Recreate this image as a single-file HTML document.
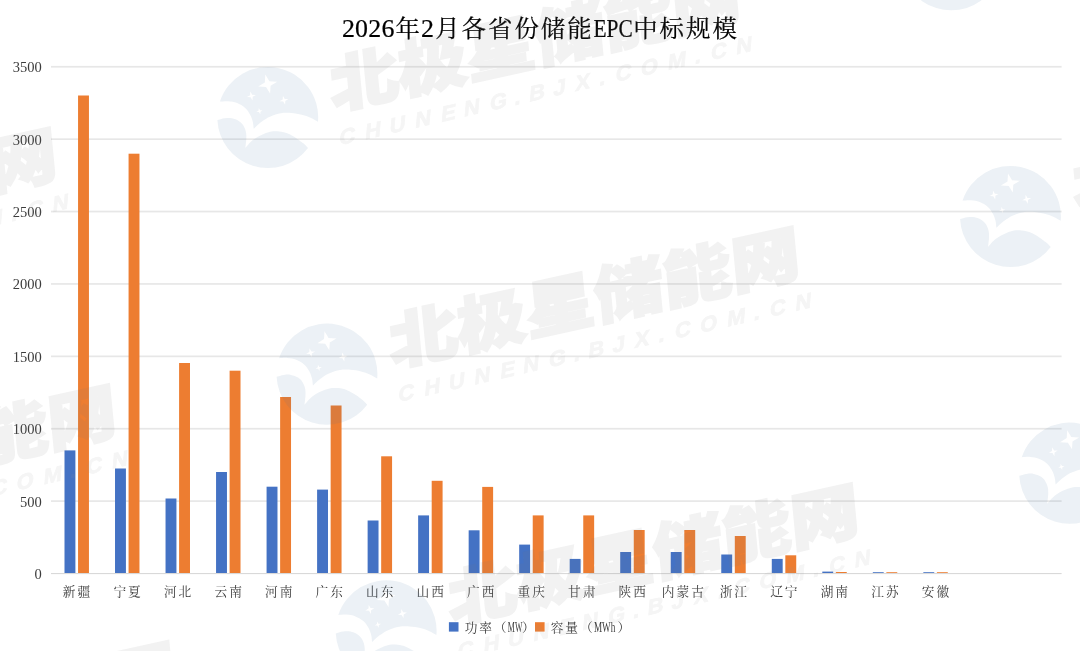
<!DOCTYPE html>
<html lang="zh-CN"><head><meta charset="utf-8"><title>2026年2月各省份储能EPC中标规模</title>
<style>
html,body{margin:0;padding:0;background:#fff;}
body{width:1080px;height:651px;overflow:hidden;}
svg{display:block;}
.ax{font-family:"Liberation Serif","Noto Serif CJK SC",serif;font-size:12.7px;fill:#3c3c3c;}
.lat{font-size:14px;}
.num{font-family:"Liberation Serif","Noto Serif CJK SC",serif;font-size:14.5px;fill:#3c3c3c;}
.ttl{font-family:"Liberation Serif","Noto Serif CJK SC",serif;font-size:24.4px;fill:#000;stroke:#000;stroke-width:0.22px;}
.d{font-size:25.9px;}
.wm1{font-family:"Liberation Sans","Noto Sans CJK SC",sans-serif;font-weight:900;font-size:61.6px;fill:#7d7d7d;stroke:#7d7d7d;stroke-width:2.4px;stroke-linejoin:miter;}
.wm2{font-family:"Liberation Sans","Noto Sans CJK SC",sans-serif;font-weight:700;font-size:20px;fill:#999;stroke:#999;stroke-width:0.7px;text-anchor:middle;}
</style></head><body>
<svg width="1080" height="651" viewBox="0 0 1080 651">
<rect width="1080" height="651" fill="#fff"/>
<g fill="#d9d9d9">
<rect x="51.0" y="573.00" width="1010.6" height="1.1"/>
<rect x="51.0" y="500.26" width="1010.6" height="1.7" fill-opacity="0.62"/>
<rect x="51.0" y="427.87" width="1010.6" height="1.7" fill-opacity="0.62"/>
<rect x="51.0" y="355.48" width="1010.6" height="1.7" fill-opacity="0.62"/>
<rect x="51.0" y="283.09" width="1010.6" height="1.7" fill-opacity="0.62"/>
<rect x="51.0" y="210.70" width="1010.6" height="1.7" fill-opacity="0.62"/>
<rect x="51.0" y="138.31" width="1010.6" height="1.7" fill-opacity="0.62"/>
<rect x="51.0" y="65.92" width="1010.6" height="1.7" fill-opacity="0.62"/>
</g>
<g fill="#4472c4">
<rect x="64.50" y="450.40" width="10.9" height="122.60"/>
<rect x="115.02" y="468.50" width="10.9" height="104.50"/>
<rect x="165.54" y="498.50" width="10.9" height="74.50"/>
<rect x="216.06" y="472.00" width="10.9" height="101.00"/>
<rect x="266.58" y="486.70" width="10.9" height="86.30"/>
<rect x="317.10" y="489.60" width="10.9" height="83.40"/>
<rect x="367.62" y="520.50" width="10.9" height="52.50"/>
<rect x="418.14" y="515.40" width="10.9" height="57.60"/>
<rect x="468.66" y="530.30" width="10.9" height="42.70"/>
<rect x="519.18" y="544.60" width="10.9" height="28.40"/>
<rect x="569.70" y="558.90" width="10.9" height="14.10"/>
<rect x="620.22" y="552.00" width="10.9" height="21.00"/>
<rect x="670.74" y="552.00" width="10.9" height="21.00"/>
<rect x="721.26" y="554.50" width="10.9" height="18.50"/>
<rect x="771.78" y="558.90" width="10.9" height="14.10"/>
<rect x="822.30" y="571.60" width="10.9" height="1.40"/>
<rect x="872.82" y="572.20" width="10.9" height="0.80"/>
<rect x="923.34" y="572.20" width="10.9" height="0.80"/>
</g>
<g fill="#ed7d31">
<rect x="78.05" y="95.50" width="10.9" height="477.50"/>
<rect x="128.57" y="153.70" width="10.9" height="419.30"/>
<rect x="179.09" y="363.00" width="10.9" height="210.00"/>
<rect x="229.61" y="370.70" width="10.9" height="202.30"/>
<rect x="280.13" y="397.00" width="10.9" height="176.00"/>
<rect x="330.65" y="405.50" width="10.9" height="167.50"/>
<rect x="381.17" y="456.30" width="10.9" height="116.70"/>
<rect x="431.69" y="480.80" width="10.9" height="92.20"/>
<rect x="482.21" y="486.90" width="10.9" height="86.10"/>
<rect x="532.73" y="515.40" width="10.9" height="57.60"/>
<rect x="583.25" y="515.40" width="10.9" height="57.60"/>
<rect x="633.77" y="530.00" width="10.9" height="43.00"/>
<rect x="684.29" y="530.00" width="10.9" height="43.00"/>
<rect x="734.81" y="536.00" width="10.9" height="37.00"/>
<rect x="785.33" y="555.30" width="10.9" height="17.70"/>
<rect x="835.85" y="572.00" width="10.9" height="1.00"/>
<rect x="886.37" y="572.20" width="10.9" height="0.80"/>
<rect x="936.89" y="572.20" width="10.9" height="0.80"/>
</g>
<g class="num" text-anchor="end">
<text x="41.8" y="578.95">0</text>
<text x="41.8" y="506.56">500</text>
<text x="41.8" y="434.17">1000</text>
<text x="41.8" y="361.78">1500</text>
<text x="41.8" y="289.39">2000</text>
<text x="41.8" y="217.00">2500</text>
<text x="41.8" y="144.61">3000</text>
<text x="41.8" y="72.22">3500</text>
</g>
<g class="ax" text-anchor="middle">
<text x="69.21 83.91" y="595.9">新疆</text>
<text x="119.73 134.43" y="595.9">宁夏</text>
<text x="170.25 184.95" y="595.9">河北</text>
<text x="220.77 235.47" y="595.9">云南</text>
<text x="271.29 285.99" y="595.9">河南</text>
<text x="321.81 336.51" y="595.9">广东</text>
<text x="372.33 387.03" y="595.9">山东</text>
<text x="422.85 437.55" y="595.9">山西</text>
<text x="473.37 488.07" y="595.9">广西</text>
<text x="523.89 538.59" y="595.9">重庆</text>
<text x="574.41 589.11" y="595.9">甘肃</text>
<text x="624.93 639.63" y="595.9">陕西</text>
<text x="668.10 682.80 697.50" y="595.9">内蒙古</text>
<text x="725.97 740.67" y="595.9">浙江</text>
<text x="776.49 791.19" y="595.9">辽宁</text>
<text x="827.01 841.71" y="595.9">湖南</text>
<text x="877.53 892.23" y="595.9">江苏</text>
<text x="928.05 942.75" y="595.9">安徽</text>
</g>
<text class="ttl" y="37.3" text-anchor="middle" x="348.40 361.60 374.80 388.00 407.80 427.60 447.40 473.80 500.20 526.60 553.00 579.40"><tspan class="d" dy="-0.5">2026</tspan><tspan dy="0.5">年</tspan><tspan class="d" dy="-0.5">2</tspan><tspan dy="0.5">月各省份储能</tspan><tspan class="d" dy="-0.5" text-anchor="start" x="593.50" textLength="39.2" lengthAdjust="spacingAndGlyphs">EPC</tspan><tspan dy="0.5" text-anchor="middle" x="645.40 671.80 698.20 724.60">中标规模</tspan></text>
<rect x="448.9" y="622.2" width="9.6" height="9.4" fill="#4472c4"/>
<text class="ax" y="631.6" text-anchor="middle" x="471.00 485.60 500.20">功率（<tspan class="lat" text-anchor="start" x="507.80" textLength="14.60" lengthAdjust="spacingAndGlyphs">MW</tspan><tspan text-anchor="middle" x="528.30">）</tspan></text>
<rect x="535.0" y="622.2" width="9.6" height="9.4" fill="#ed7d31"/>
<text class="ax" y="631.6" text-anchor="middle" x="557.10 571.70 586.30">容量（<tspan class="lat" text-anchor="start" x="593.90" textLength="21.40" lengthAdjust="spacingAndGlyphs">MWh</tspan><tspan text-anchor="middle" x="623.90">）</tspan></text>
<g id="watermarks" opacity="0.1">
<g transform="translate(951.2,-40.0)">
<path fill="#41739f" fill-rule="evenodd" d="M-47.8,-16.1 A50.4,50.4 0 0 1 50.3,4 C49.1,3.3 45.6,1.2 42.9,0.0 C40.2,-1.2 37.4,-2.2 34.2,-3.0 C31.0,-3.8 27.1,-4.5 23.6,-4.7 C20.1,-4.9 16.6,-5.0 13.1,-4.4 C9.6,-3.8 5.8,-2.6 2.6,-1.2 C-0.6,0.2 -3.3,2.0 -6.1,4.0 C-8.9,6.0 -12.7,9.8 -14.0,11.0 C-14.2,9.8 -14.3,6.3 -14.9,4.0 C-15.5,1.7 -16.2,-0.7 -17.5,-3.0 C-18.8,-5.3 -20.6,-8.1 -22.8,-10.0 C-25.0,-11.9 -27.8,-13.6 -30.6,-14.7 C-33.4,-15.8 -36.5,-16.3 -39.4,-16.5 C-42.3,-16.7 -46.4,-16.2 -47.8,-16.1Z M-2.4,-43.1 L1.7,-36.5 L9.5,-36.0 L2.9,-31.9 L2.4,-24.1 L-1.7,-30.7 L-9.5,-31.2 L-2.9,-35.3Z M-17.4,-26.2 L-15.5,-23.0 L-11.8,-22.8 L-15.0,-20.9 L-15.2,-17.2 L-17.1,-20.4 L-20.8,-20.6 L-17.6,-22.5Z M15.2,-22.0 L17.1,-18.8 L20.8,-18.6 L17.6,-16.7 L17.4,-13.0 L15.5,-16.2 L11.8,-16.4 L15.0,-18.3Z M-9.0,-9.6 L-7.6,-7.4 L-5.1,-7.3 L-7.3,-5.9 L-7.4,-3.4 L-8.8,-5.6 L-11.3,-5.7 L-9.1,-7.1Z M-50.3,2.3 C-49.1,2.0 -45.3,0.8 -42.9,0.5 C-40.5,0.2 -38.2,0.0 -35.9,0.5 C-33.6,0.9 -30.8,2.0 -28.9,3.2 C-27.0,4.4 -25.7,5.8 -24.5,7.5 C-23.3,9.2 -22.4,11.5 -21.9,13.7 C-21.4,15.9 -21.3,17.9 -21.4,20.7 C-21.5,23.5 -22.2,28.7 -22.4,30.3 C-21.1,29.0 -17.6,24.6 -14.9,22.4 C-12.2,20.2 -9.0,18.6 -6.1,17.2 C-3.2,15.8 -0.3,14.6 2.6,14.0 C5.5,13.4 8.5,13.4 11.4,13.7 C14.3,14.0 17.2,14.6 20.1,15.8 C23.0,17.0 26.3,19.0 28.9,20.7 C31.5,22.4 34.0,24.3 35.9,25.9 C37.8,27.5 39.6,29.6 40.3,30.3 A50.4,50.4 0 0 1 -50.3,2.3Z"/>
<text class="wm1" transform="matrix(1.1077,-0.2476,0.0958,0.9954,64.5,-8.2)" x="0.0 61.8 123.5 185.3 247.0 308.8" y="0">北极星储能网</text>
<text class="wm2" transform="matrix(1.0917,-0.2500,-0.0959,1.0958,79.1,25.8)" x="0.0 23.7 46.1 69.4 92.7 114.2 138.4 156.2 173.9 194.4 215.8 233.9 253.2 276.9 302.1 321.2 340.3 363.6" y="0">CHUNENG.BJX.COM.CN</text>
</g>
<g transform="translate(267.7,117.7)">
<path fill="#41739f" fill-rule="evenodd" d="M-47.8,-16.1 A50.4,50.4 0 0 1 50.3,4 C49.1,3.3 45.6,1.2 42.9,0.0 C40.2,-1.2 37.4,-2.2 34.2,-3.0 C31.0,-3.8 27.1,-4.5 23.6,-4.7 C20.1,-4.9 16.6,-5.0 13.1,-4.4 C9.6,-3.8 5.8,-2.6 2.6,-1.2 C-0.6,0.2 -3.3,2.0 -6.1,4.0 C-8.9,6.0 -12.7,9.8 -14.0,11.0 C-14.2,9.8 -14.3,6.3 -14.9,4.0 C-15.5,1.7 -16.2,-0.7 -17.5,-3.0 C-18.8,-5.3 -20.6,-8.1 -22.8,-10.0 C-25.0,-11.9 -27.8,-13.6 -30.6,-14.7 C-33.4,-15.8 -36.5,-16.3 -39.4,-16.5 C-42.3,-16.7 -46.4,-16.2 -47.8,-16.1Z M-2.4,-43.1 L1.7,-36.5 L9.5,-36.0 L2.9,-31.9 L2.4,-24.1 L-1.7,-30.7 L-9.5,-31.2 L-2.9,-35.3Z M-17.4,-26.2 L-15.5,-23.0 L-11.8,-22.8 L-15.0,-20.9 L-15.2,-17.2 L-17.1,-20.4 L-20.8,-20.6 L-17.6,-22.5Z M15.2,-22.0 L17.1,-18.8 L20.8,-18.6 L17.6,-16.7 L17.4,-13.0 L15.5,-16.2 L11.8,-16.4 L15.0,-18.3Z M-9.0,-9.6 L-7.6,-7.4 L-5.1,-7.3 L-7.3,-5.9 L-7.4,-3.4 L-8.8,-5.6 L-11.3,-5.7 L-9.1,-7.1Z M-50.3,2.3 C-49.1,2.0 -45.3,0.8 -42.9,0.5 C-40.5,0.2 -38.2,0.0 -35.9,0.5 C-33.6,0.9 -30.8,2.0 -28.9,3.2 C-27.0,4.4 -25.7,5.8 -24.5,7.5 C-23.3,9.2 -22.4,11.5 -21.9,13.7 C-21.4,15.9 -21.3,17.9 -21.4,20.7 C-21.5,23.5 -22.2,28.7 -22.4,30.3 C-21.1,29.0 -17.6,24.6 -14.9,22.4 C-12.2,20.2 -9.0,18.6 -6.1,17.2 C-3.2,15.8 -0.3,14.6 2.6,14.0 C5.5,13.4 8.5,13.4 11.4,13.7 C14.3,14.0 17.2,14.6 20.1,15.8 C23.0,17.0 26.3,19.0 28.9,20.7 C31.5,22.4 34.0,24.3 35.9,25.9 C37.8,27.5 39.6,29.6 40.3,30.3 A50.4,50.4 0 0 1 -50.3,2.3Z"/>
<text class="wm1" transform="matrix(1.1077,-0.2476,0.0958,0.9954,64.5,-8.2)" x="0.0 61.8 123.5 185.3 247.0 308.8" y="0">北极星储能网</text>
<text class="wm2" transform="matrix(1.0917,-0.2500,-0.0959,1.0958,79.1,25.8)" x="0.0 23.7 46.1 69.4 92.7 114.2 138.4 156.2 173.9 194.4 215.8 233.9 253.2 276.9 302.1 321.2 340.3 363.6" y="0">CHUNENG.BJX.COM.CN</text>
</g>
<g transform="translate(1010.4,216.7)">
<path fill="#41739f" fill-rule="evenodd" d="M-47.8,-16.1 A50.4,50.4 0 0 1 50.3,4 C49.1,3.3 45.6,1.2 42.9,0.0 C40.2,-1.2 37.4,-2.2 34.2,-3.0 C31.0,-3.8 27.1,-4.5 23.6,-4.7 C20.1,-4.9 16.6,-5.0 13.1,-4.4 C9.6,-3.8 5.8,-2.6 2.6,-1.2 C-0.6,0.2 -3.3,2.0 -6.1,4.0 C-8.9,6.0 -12.7,9.8 -14.0,11.0 C-14.2,9.8 -14.3,6.3 -14.9,4.0 C-15.5,1.7 -16.2,-0.7 -17.5,-3.0 C-18.8,-5.3 -20.6,-8.1 -22.8,-10.0 C-25.0,-11.9 -27.8,-13.6 -30.6,-14.7 C-33.4,-15.8 -36.5,-16.3 -39.4,-16.5 C-42.3,-16.7 -46.4,-16.2 -47.8,-16.1Z M-2.4,-43.1 L1.7,-36.5 L9.5,-36.0 L2.9,-31.9 L2.4,-24.1 L-1.7,-30.7 L-9.5,-31.2 L-2.9,-35.3Z M-17.4,-26.2 L-15.5,-23.0 L-11.8,-22.8 L-15.0,-20.9 L-15.2,-17.2 L-17.1,-20.4 L-20.8,-20.6 L-17.6,-22.5Z M15.2,-22.0 L17.1,-18.8 L20.8,-18.6 L17.6,-16.7 L17.4,-13.0 L15.5,-16.2 L11.8,-16.4 L15.0,-18.3Z M-9.0,-9.6 L-7.6,-7.4 L-5.1,-7.3 L-7.3,-5.9 L-7.4,-3.4 L-8.8,-5.6 L-11.3,-5.7 L-9.1,-7.1Z M-50.3,2.3 C-49.1,2.0 -45.3,0.8 -42.9,0.5 C-40.5,0.2 -38.2,0.0 -35.9,0.5 C-33.6,0.9 -30.8,2.0 -28.9,3.2 C-27.0,4.4 -25.7,5.8 -24.5,7.5 C-23.3,9.2 -22.4,11.5 -21.9,13.7 C-21.4,15.9 -21.3,17.9 -21.4,20.7 C-21.5,23.5 -22.2,28.7 -22.4,30.3 C-21.1,29.0 -17.6,24.6 -14.9,22.4 C-12.2,20.2 -9.0,18.6 -6.1,17.2 C-3.2,15.8 -0.3,14.6 2.6,14.0 C5.5,13.4 8.5,13.4 11.4,13.7 C14.3,14.0 17.2,14.6 20.1,15.8 C23.0,17.0 26.3,19.0 28.9,20.7 C31.5,22.4 34.0,24.3 35.9,25.9 C37.8,27.5 39.6,29.6 40.3,30.3 A50.4,50.4 0 0 1 -50.3,2.3Z"/>
<text class="wm1" transform="matrix(1.1077,-0.2476,0.0958,0.9954,64.5,-8.2)" x="0.0 61.8 123.5 185.3 247.0 308.8" y="0">北极星储能网</text>
<text class="wm2" transform="matrix(1.0917,-0.2500,-0.0959,1.0958,79.1,25.8)" x="0.0 23.7 46.1 69.4 92.7 114.2 138.4 156.2 173.9 194.4 215.8 233.9 253.2 276.9 302.1 321.2 340.3 363.6" y="0">CHUNENG.BJX.COM.CN</text>
</g>
<g transform="translate(-415.8,275.4)">
<path fill="#41739f" fill-rule="evenodd" d="M-47.8,-16.1 A50.4,50.4 0 0 1 50.3,4 C49.1,3.3 45.6,1.2 42.9,0.0 C40.2,-1.2 37.4,-2.2 34.2,-3.0 C31.0,-3.8 27.1,-4.5 23.6,-4.7 C20.1,-4.9 16.6,-5.0 13.1,-4.4 C9.6,-3.8 5.8,-2.6 2.6,-1.2 C-0.6,0.2 -3.3,2.0 -6.1,4.0 C-8.9,6.0 -12.7,9.8 -14.0,11.0 C-14.2,9.8 -14.3,6.3 -14.9,4.0 C-15.5,1.7 -16.2,-0.7 -17.5,-3.0 C-18.8,-5.3 -20.6,-8.1 -22.8,-10.0 C-25.0,-11.9 -27.8,-13.6 -30.6,-14.7 C-33.4,-15.8 -36.5,-16.3 -39.4,-16.5 C-42.3,-16.7 -46.4,-16.2 -47.8,-16.1Z M-2.4,-43.1 L1.7,-36.5 L9.5,-36.0 L2.9,-31.9 L2.4,-24.1 L-1.7,-30.7 L-9.5,-31.2 L-2.9,-35.3Z M-17.4,-26.2 L-15.5,-23.0 L-11.8,-22.8 L-15.0,-20.9 L-15.2,-17.2 L-17.1,-20.4 L-20.8,-20.6 L-17.6,-22.5Z M15.2,-22.0 L17.1,-18.8 L20.8,-18.6 L17.6,-16.7 L17.4,-13.0 L15.5,-16.2 L11.8,-16.4 L15.0,-18.3Z M-9.0,-9.6 L-7.6,-7.4 L-5.1,-7.3 L-7.3,-5.9 L-7.4,-3.4 L-8.8,-5.6 L-11.3,-5.7 L-9.1,-7.1Z M-50.3,2.3 C-49.1,2.0 -45.3,0.8 -42.9,0.5 C-40.5,0.2 -38.2,0.0 -35.9,0.5 C-33.6,0.9 -30.8,2.0 -28.9,3.2 C-27.0,4.4 -25.7,5.8 -24.5,7.5 C-23.3,9.2 -22.4,11.5 -21.9,13.7 C-21.4,15.9 -21.3,17.9 -21.4,20.7 C-21.5,23.5 -22.2,28.7 -22.4,30.3 C-21.1,29.0 -17.6,24.6 -14.9,22.4 C-12.2,20.2 -9.0,18.6 -6.1,17.2 C-3.2,15.8 -0.3,14.6 2.6,14.0 C5.5,13.4 8.5,13.4 11.4,13.7 C14.3,14.0 17.2,14.6 20.1,15.8 C23.0,17.0 26.3,19.0 28.9,20.7 C31.5,22.4 34.0,24.3 35.9,25.9 C37.8,27.5 39.6,29.6 40.3,30.3 A50.4,50.4 0 0 1 -50.3,2.3Z"/>
<text class="wm1" transform="matrix(1.1077,-0.2476,0.0958,0.9954,64.5,-8.2)" x="0.0 61.8 123.5 185.3 247.0 308.8" y="0">北极星储能网</text>
<text class="wm2" transform="matrix(1.0917,-0.2500,-0.0959,1.0958,79.1,25.8)" x="0.0 23.7 46.1 69.4 92.7 114.2 138.4 156.2 173.9 194.4 215.8 233.9 253.2 276.9 302.1 321.2 340.3 363.6" y="0">CHUNENG.BJX.COM.CN</text>
</g>
<g transform="translate(326.9,374.4)">
<path fill="#41739f" fill-rule="evenodd" d="M-47.8,-16.1 A50.4,50.4 0 0 1 50.3,4 C49.1,3.3 45.6,1.2 42.9,0.0 C40.2,-1.2 37.4,-2.2 34.2,-3.0 C31.0,-3.8 27.1,-4.5 23.6,-4.7 C20.1,-4.9 16.6,-5.0 13.1,-4.4 C9.6,-3.8 5.8,-2.6 2.6,-1.2 C-0.6,0.2 -3.3,2.0 -6.1,4.0 C-8.9,6.0 -12.7,9.8 -14.0,11.0 C-14.2,9.8 -14.3,6.3 -14.9,4.0 C-15.5,1.7 -16.2,-0.7 -17.5,-3.0 C-18.8,-5.3 -20.6,-8.1 -22.8,-10.0 C-25.0,-11.9 -27.8,-13.6 -30.6,-14.7 C-33.4,-15.8 -36.5,-16.3 -39.4,-16.5 C-42.3,-16.7 -46.4,-16.2 -47.8,-16.1Z M-2.4,-43.1 L1.7,-36.5 L9.5,-36.0 L2.9,-31.9 L2.4,-24.1 L-1.7,-30.7 L-9.5,-31.2 L-2.9,-35.3Z M-17.4,-26.2 L-15.5,-23.0 L-11.8,-22.8 L-15.0,-20.9 L-15.2,-17.2 L-17.1,-20.4 L-20.8,-20.6 L-17.6,-22.5Z M15.2,-22.0 L17.1,-18.8 L20.8,-18.6 L17.6,-16.7 L17.4,-13.0 L15.5,-16.2 L11.8,-16.4 L15.0,-18.3Z M-9.0,-9.6 L-7.6,-7.4 L-5.1,-7.3 L-7.3,-5.9 L-7.4,-3.4 L-8.8,-5.6 L-11.3,-5.7 L-9.1,-7.1Z M-50.3,2.3 C-49.1,2.0 -45.3,0.8 -42.9,0.5 C-40.5,0.2 -38.2,0.0 -35.9,0.5 C-33.6,0.9 -30.8,2.0 -28.9,3.2 C-27.0,4.4 -25.7,5.8 -24.5,7.5 C-23.3,9.2 -22.4,11.5 -21.9,13.7 C-21.4,15.9 -21.3,17.9 -21.4,20.7 C-21.5,23.5 -22.2,28.7 -22.4,30.3 C-21.1,29.0 -17.6,24.6 -14.9,22.4 C-12.2,20.2 -9.0,18.6 -6.1,17.2 C-3.2,15.8 -0.3,14.6 2.6,14.0 C5.5,13.4 8.5,13.4 11.4,13.7 C14.3,14.0 17.2,14.6 20.1,15.8 C23.0,17.0 26.3,19.0 28.9,20.7 C31.5,22.4 34.0,24.3 35.9,25.9 C37.8,27.5 39.6,29.6 40.3,30.3 A50.4,50.4 0 0 1 -50.3,2.3Z"/>
<text class="wm1" transform="matrix(1.1077,-0.2476,0.0958,0.9954,64.5,-8.2)" x="0.0 61.8 123.5 185.3 247.0 308.8" y="0">北极星储能网</text>
<text class="wm2" transform="matrix(1.0917,-0.2500,-0.0959,1.0958,79.1,25.8)" x="0.0 23.7 46.1 69.4 92.7 114.2 138.4 156.2 173.9 194.4 215.8 233.9 253.2 276.9 302.1 321.2 340.3 363.6" y="0">CHUNENG.BJX.COM.CN</text>
</g>
<g transform="translate(1069.6,473.4)">
<path fill="#41739f" fill-rule="evenodd" d="M-47.8,-16.1 A50.4,50.4 0 0 1 50.3,4 C49.1,3.3 45.6,1.2 42.9,0.0 C40.2,-1.2 37.4,-2.2 34.2,-3.0 C31.0,-3.8 27.1,-4.5 23.6,-4.7 C20.1,-4.9 16.6,-5.0 13.1,-4.4 C9.6,-3.8 5.8,-2.6 2.6,-1.2 C-0.6,0.2 -3.3,2.0 -6.1,4.0 C-8.9,6.0 -12.7,9.8 -14.0,11.0 C-14.2,9.8 -14.3,6.3 -14.9,4.0 C-15.5,1.7 -16.2,-0.7 -17.5,-3.0 C-18.8,-5.3 -20.6,-8.1 -22.8,-10.0 C-25.0,-11.9 -27.8,-13.6 -30.6,-14.7 C-33.4,-15.8 -36.5,-16.3 -39.4,-16.5 C-42.3,-16.7 -46.4,-16.2 -47.8,-16.1Z M-2.4,-43.1 L1.7,-36.5 L9.5,-36.0 L2.9,-31.9 L2.4,-24.1 L-1.7,-30.7 L-9.5,-31.2 L-2.9,-35.3Z M-17.4,-26.2 L-15.5,-23.0 L-11.8,-22.8 L-15.0,-20.9 L-15.2,-17.2 L-17.1,-20.4 L-20.8,-20.6 L-17.6,-22.5Z M15.2,-22.0 L17.1,-18.8 L20.8,-18.6 L17.6,-16.7 L17.4,-13.0 L15.5,-16.2 L11.8,-16.4 L15.0,-18.3Z M-9.0,-9.6 L-7.6,-7.4 L-5.1,-7.3 L-7.3,-5.9 L-7.4,-3.4 L-8.8,-5.6 L-11.3,-5.7 L-9.1,-7.1Z M-50.3,2.3 C-49.1,2.0 -45.3,0.8 -42.9,0.5 C-40.5,0.2 -38.2,0.0 -35.9,0.5 C-33.6,0.9 -30.8,2.0 -28.9,3.2 C-27.0,4.4 -25.7,5.8 -24.5,7.5 C-23.3,9.2 -22.4,11.5 -21.9,13.7 C-21.4,15.9 -21.3,17.9 -21.4,20.7 C-21.5,23.5 -22.2,28.7 -22.4,30.3 C-21.1,29.0 -17.6,24.6 -14.9,22.4 C-12.2,20.2 -9.0,18.6 -6.1,17.2 C-3.2,15.8 -0.3,14.6 2.6,14.0 C5.5,13.4 8.5,13.4 11.4,13.7 C14.3,14.0 17.2,14.6 20.1,15.8 C23.0,17.0 26.3,19.0 28.9,20.7 C31.5,22.4 34.0,24.3 35.9,25.9 C37.8,27.5 39.6,29.6 40.3,30.3 A50.4,50.4 0 0 1 -50.3,2.3Z"/>
<text class="wm1" transform="matrix(1.1077,-0.2476,0.0958,0.9954,64.5,-8.2)" x="0.0 61.8 123.5 185.3 247.0 308.8" y="0">北极星储能网</text>
<text class="wm2" transform="matrix(1.0917,-0.2500,-0.0959,1.0958,79.1,25.8)" x="0.0 23.7 46.1 69.4 92.7 114.2 138.4 156.2 173.9 194.4 215.8 233.9 253.2 276.9 302.1 321.2 340.3 363.6" y="0">CHUNENG.BJX.COM.CN</text>
</g>
<g transform="translate(-356.6,532.1)">
<path fill="#41739f" fill-rule="evenodd" d="M-47.8,-16.1 A50.4,50.4 0 0 1 50.3,4 C49.1,3.3 45.6,1.2 42.9,0.0 C40.2,-1.2 37.4,-2.2 34.2,-3.0 C31.0,-3.8 27.1,-4.5 23.6,-4.7 C20.1,-4.9 16.6,-5.0 13.1,-4.4 C9.6,-3.8 5.8,-2.6 2.6,-1.2 C-0.6,0.2 -3.3,2.0 -6.1,4.0 C-8.9,6.0 -12.7,9.8 -14.0,11.0 C-14.2,9.8 -14.3,6.3 -14.9,4.0 C-15.5,1.7 -16.2,-0.7 -17.5,-3.0 C-18.8,-5.3 -20.6,-8.1 -22.8,-10.0 C-25.0,-11.9 -27.8,-13.6 -30.6,-14.7 C-33.4,-15.8 -36.5,-16.3 -39.4,-16.5 C-42.3,-16.7 -46.4,-16.2 -47.8,-16.1Z M-2.4,-43.1 L1.7,-36.5 L9.5,-36.0 L2.9,-31.9 L2.4,-24.1 L-1.7,-30.7 L-9.5,-31.2 L-2.9,-35.3Z M-17.4,-26.2 L-15.5,-23.0 L-11.8,-22.8 L-15.0,-20.9 L-15.2,-17.2 L-17.1,-20.4 L-20.8,-20.6 L-17.6,-22.5Z M15.2,-22.0 L17.1,-18.8 L20.8,-18.6 L17.6,-16.7 L17.4,-13.0 L15.5,-16.2 L11.8,-16.4 L15.0,-18.3Z M-9.0,-9.6 L-7.6,-7.4 L-5.1,-7.3 L-7.3,-5.9 L-7.4,-3.4 L-8.8,-5.6 L-11.3,-5.7 L-9.1,-7.1Z M-50.3,2.3 C-49.1,2.0 -45.3,0.8 -42.9,0.5 C-40.5,0.2 -38.2,0.0 -35.9,0.5 C-33.6,0.9 -30.8,2.0 -28.9,3.2 C-27.0,4.4 -25.7,5.8 -24.5,7.5 C-23.3,9.2 -22.4,11.5 -21.9,13.7 C-21.4,15.9 -21.3,17.9 -21.4,20.7 C-21.5,23.5 -22.2,28.7 -22.4,30.3 C-21.1,29.0 -17.6,24.6 -14.9,22.4 C-12.2,20.2 -9.0,18.6 -6.1,17.2 C-3.2,15.8 -0.3,14.6 2.6,14.0 C5.5,13.4 8.5,13.4 11.4,13.7 C14.3,14.0 17.2,14.6 20.1,15.8 C23.0,17.0 26.3,19.0 28.9,20.7 C31.5,22.4 34.0,24.3 35.9,25.9 C37.8,27.5 39.6,29.6 40.3,30.3 A50.4,50.4 0 0 1 -50.3,2.3Z"/>
<text class="wm1" transform="matrix(1.1077,-0.2476,0.0958,0.9954,64.5,-8.2)" x="0.0 61.8 123.5 185.3 247.0 308.8" y="0">北极星储能网</text>
<text class="wm2" transform="matrix(1.0917,-0.2500,-0.0959,1.0958,79.1,25.8)" x="0.0 23.7 46.1 69.4 92.7 114.2 138.4 156.2 173.9 194.4 215.8 233.9 253.2 276.9 302.1 321.2 340.3 363.6" y="0">CHUNENG.BJX.COM.CN</text>
</g>
<g transform="translate(386.1,631.1)">
<path fill="#41739f" fill-rule="evenodd" d="M-47.8,-16.1 A50.4,50.4 0 0 1 50.3,4 C49.1,3.3 45.6,1.2 42.9,0.0 C40.2,-1.2 37.4,-2.2 34.2,-3.0 C31.0,-3.8 27.1,-4.5 23.6,-4.7 C20.1,-4.9 16.6,-5.0 13.1,-4.4 C9.6,-3.8 5.8,-2.6 2.6,-1.2 C-0.6,0.2 -3.3,2.0 -6.1,4.0 C-8.9,6.0 -12.7,9.8 -14.0,11.0 C-14.2,9.8 -14.3,6.3 -14.9,4.0 C-15.5,1.7 -16.2,-0.7 -17.5,-3.0 C-18.8,-5.3 -20.6,-8.1 -22.8,-10.0 C-25.0,-11.9 -27.8,-13.6 -30.6,-14.7 C-33.4,-15.8 -36.5,-16.3 -39.4,-16.5 C-42.3,-16.7 -46.4,-16.2 -47.8,-16.1Z M-2.4,-43.1 L1.7,-36.5 L9.5,-36.0 L2.9,-31.9 L2.4,-24.1 L-1.7,-30.7 L-9.5,-31.2 L-2.9,-35.3Z M-17.4,-26.2 L-15.5,-23.0 L-11.8,-22.8 L-15.0,-20.9 L-15.2,-17.2 L-17.1,-20.4 L-20.8,-20.6 L-17.6,-22.5Z M15.2,-22.0 L17.1,-18.8 L20.8,-18.6 L17.6,-16.7 L17.4,-13.0 L15.5,-16.2 L11.8,-16.4 L15.0,-18.3Z M-9.0,-9.6 L-7.6,-7.4 L-5.1,-7.3 L-7.3,-5.9 L-7.4,-3.4 L-8.8,-5.6 L-11.3,-5.7 L-9.1,-7.1Z M-50.3,2.3 C-49.1,2.0 -45.3,0.8 -42.9,0.5 C-40.5,0.2 -38.2,0.0 -35.9,0.5 C-33.6,0.9 -30.8,2.0 -28.9,3.2 C-27.0,4.4 -25.7,5.8 -24.5,7.5 C-23.3,9.2 -22.4,11.5 -21.9,13.7 C-21.4,15.9 -21.3,17.9 -21.4,20.7 C-21.5,23.5 -22.2,28.7 -22.4,30.3 C-21.1,29.0 -17.6,24.6 -14.9,22.4 C-12.2,20.2 -9.0,18.6 -6.1,17.2 C-3.2,15.8 -0.3,14.6 2.6,14.0 C5.5,13.4 8.5,13.4 11.4,13.7 C14.3,14.0 17.2,14.6 20.1,15.8 C23.0,17.0 26.3,19.0 28.9,20.7 C31.5,22.4 34.0,24.3 35.9,25.9 C37.8,27.5 39.6,29.6 40.3,30.3 A50.4,50.4 0 0 1 -50.3,2.3Z"/>
<text class="wm1" transform="matrix(1.1077,-0.2476,0.0958,0.9954,64.5,-8.2)" x="0.0 61.8 123.5 185.3 247.0 308.8" y="0">北极星储能网</text>
<text class="wm2" transform="matrix(1.0917,-0.2500,-0.0959,1.0958,79.1,25.8)" x="0.0 23.7 46.1 69.4 92.7 114.2 138.4 156.2 173.9 194.4 215.8 233.9 253.2 276.9 302.1 321.2 340.3 363.6" y="0">CHUNENG.BJX.COM.CN</text>
</g>
<g transform="translate(-297.4,788.8)">
<path fill="#41739f" fill-rule="evenodd" d="M-47.8,-16.1 A50.4,50.4 0 0 1 50.3,4 C49.1,3.3 45.6,1.2 42.9,0.0 C40.2,-1.2 37.4,-2.2 34.2,-3.0 C31.0,-3.8 27.1,-4.5 23.6,-4.7 C20.1,-4.9 16.6,-5.0 13.1,-4.4 C9.6,-3.8 5.8,-2.6 2.6,-1.2 C-0.6,0.2 -3.3,2.0 -6.1,4.0 C-8.9,6.0 -12.7,9.8 -14.0,11.0 C-14.2,9.8 -14.3,6.3 -14.9,4.0 C-15.5,1.7 -16.2,-0.7 -17.5,-3.0 C-18.8,-5.3 -20.6,-8.1 -22.8,-10.0 C-25.0,-11.9 -27.8,-13.6 -30.6,-14.7 C-33.4,-15.8 -36.5,-16.3 -39.4,-16.5 C-42.3,-16.7 -46.4,-16.2 -47.8,-16.1Z M-2.4,-43.1 L1.7,-36.5 L9.5,-36.0 L2.9,-31.9 L2.4,-24.1 L-1.7,-30.7 L-9.5,-31.2 L-2.9,-35.3Z M-17.4,-26.2 L-15.5,-23.0 L-11.8,-22.8 L-15.0,-20.9 L-15.2,-17.2 L-17.1,-20.4 L-20.8,-20.6 L-17.6,-22.5Z M15.2,-22.0 L17.1,-18.8 L20.8,-18.6 L17.6,-16.7 L17.4,-13.0 L15.5,-16.2 L11.8,-16.4 L15.0,-18.3Z M-9.0,-9.6 L-7.6,-7.4 L-5.1,-7.3 L-7.3,-5.9 L-7.4,-3.4 L-8.8,-5.6 L-11.3,-5.7 L-9.1,-7.1Z M-50.3,2.3 C-49.1,2.0 -45.3,0.8 -42.9,0.5 C-40.5,0.2 -38.2,0.0 -35.9,0.5 C-33.6,0.9 -30.8,2.0 -28.9,3.2 C-27.0,4.4 -25.7,5.8 -24.5,7.5 C-23.3,9.2 -22.4,11.5 -21.9,13.7 C-21.4,15.9 -21.3,17.9 -21.4,20.7 C-21.5,23.5 -22.2,28.7 -22.4,30.3 C-21.1,29.0 -17.6,24.6 -14.9,22.4 C-12.2,20.2 -9.0,18.6 -6.1,17.2 C-3.2,15.8 -0.3,14.6 2.6,14.0 C5.5,13.4 8.5,13.4 11.4,13.7 C14.3,14.0 17.2,14.6 20.1,15.8 C23.0,17.0 26.3,19.0 28.9,20.7 C31.5,22.4 34.0,24.3 35.9,25.9 C37.8,27.5 39.6,29.6 40.3,30.3 A50.4,50.4 0 0 1 -50.3,2.3Z"/>
<text class="wm1" transform="matrix(1.1077,-0.2476,0.0958,0.9954,64.5,-8.2)" x="0.0 61.8 123.5 185.3 247.0 308.8" y="0">北极星储能网</text>
<text class="wm2" transform="matrix(1.0917,-0.2500,-0.0959,1.0958,79.1,25.8)" x="0.0 23.7 46.1 69.4 92.7 114.2 138.4 156.2 173.9 194.4 215.8 233.9 253.2 276.9 302.1 321.2 340.3 363.6" y="0">CHUNENG.BJX.COM.CN</text>
</g>
</g>
</svg>
</body></html>
